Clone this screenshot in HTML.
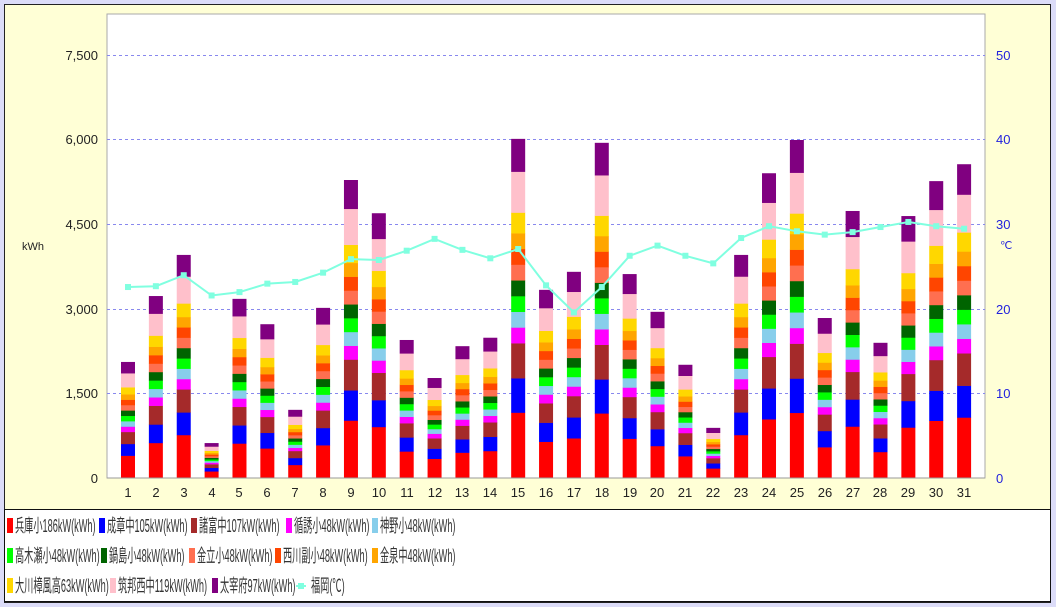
<!DOCTYPE html>
<html><head><meta charset="utf-8"><style>
html,body{margin:0;padding:0;background:#dcdcf8;width:1056px;height:607px;overflow:hidden}
#wrap{position:absolute;left:4px;top:4px;width:1045px;height:597px;border:1px solid #222;background:#ffffd6}
#leg{position:absolute;left:0;top:0;width:1056px;height:607px;font-family:"Liberation Sans","Noto Sans CJK JP",sans-serif;font-size:18px;color:#333}
#box{position:absolute;left:4px;top:509px;width:1045px;height:91px;border:1px solid #111;background:#fff}
.sq{position:absolute;width:6px;height:15px}
.t{position:absolute;white-space:nowrap;line-height:20px;transform:scaleX(0.51);transform-origin:0 50%}
svg{position:absolute;left:0;top:0}
</style></head><body>
<div id="wrap"></div>
<svg width="1056" height="510" font-family="Liberation Sans, sans-serif" font-size="13">
<rect x="107" y="14" width="878" height="464" fill="#fff" stroke="#aaa"/>
<g stroke="#8888ee" stroke-dasharray="3,3" stroke-width="1">
<line x1="107" x2="985" y1="55.5" y2="55.5"/><line x1="107" x2="985" y1="139.5" y2="139.5"/><line x1="107" x2="985" y1="224.5" y2="224.5"/><line x1="107" x2="985" y1="309.5" y2="309.5"/><line x1="107" x2="985" y1="393.5" y2="393.5"/>
</g>
<g id="bars"></g>
<line x1="107" x2="985" y1="478" y2="478" stroke="#999"/>
<polyline id="temp" fill="none" stroke="#80ffe0" stroke-width="2"/>
<g id="pts" fill="#80ffe0"></g>
<g text-anchor="end" fill="#222">
<text x="98" y="60">7,500</text><text x="98" y="144">6,000</text><text x="98" y="229">4,500</text><text x="98" y="314">3,000</text><text x="98" y="398">1,500</text><text x="98" y="483">0</text>
</g>
<text x="22" y="250" font-size="11" fill="#222">kWh</text>
<g fill="#2222dd">
<text x="996" y="60">50</text><text x="996" y="144">40</text><text x="996" y="229">30</text><text x="996" y="314">20</text><text x="996" y="398">10</text><text x="996" y="483">0</text>
<text x="1000" y="249" font-size="11">℃</text>
</g>
<g text-anchor="middle" fill="#222">
<text x="128" y="497">1</text><text x="156" y="497">2</text><text x="184" y="497">3</text><text x="212" y="497">4</text><text x="239" y="497">5</text><text x="267" y="497">6</text><text x="295" y="497">7</text><text x="323" y="497">8</text><text x="351" y="497">9</text><text x="379" y="497">10</text><text x="407" y="497">11</text><text x="435" y="497">12</text><text x="462" y="497">13</text><text x="490" y="497">14</text><text x="518" y="497">15</text><text x="546" y="497">16</text><text x="574" y="497">17</text><text x="602" y="497">18</text><text x="630" y="497">19</text><text x="657" y="497">20</text><text x="685" y="497">21</text><text x="713" y="497">22</text><text x="741" y="497">23</text><text x="769" y="497">24</text><text x="797" y="497">25</text><text x="825" y="497">26</text><text x="853" y="497">27</text><text x="880" y="497">28</text><text x="908" y="497">29</text><text x="936" y="497">30</text><text x="964" y="497">31</text>
</g>
</svg>
<div id="leg">
<div id="box"></div>
<div class="sq" style="left:7px;top:518px;background:#f00"></div><div class="t" style="left:15px;top:516px">兵庫小186kW(kWh)</div>
<div class="sq" style="left:99px;top:518px;background:#00f"></div><div class="t" style="left:107px;top:516px">成章中105kW(kWh)</div>
<div class="sq" style="left:191px;top:518px;background:#a52a2a"></div><div class="t" style="left:199px;top:516px">諸富中107kW(kWh)</div>
<div class="sq" style="left:286px;top:518px;background:#f0f"></div><div class="t" style="left:294px;top:516px">循誘小48kW(kWh)</div>
<div class="sq" style="left:372px;top:518px;background:#87ceeb"></div><div class="t" style="left:380px;top:516px">神野小48kW(kWh)</div>
<div class="sq" style="left:7px;top:548px;background:#0f0"></div><div class="t" style="left:15px;top:546px">高木瀬小48kW(kWh)</div>
<div class="sq" style="left:101px;top:548px;background:#006400"></div><div class="t" style="left:109px;top:546px">鍋島小48kW(kWh)</div>
<div class="sq" style="left:189px;top:548px;background:#ff6f50"></div><div class="t" style="left:197px;top:546px">金立小48kW(kWh)</div>
<div class="sq" style="left:275px;top:548px;background:#ff4500"></div><div class="t" style="left:283px;top:546px">西川副小48kW(kWh)</div>
<div class="sq" style="left:372px;top:548px;background:#ffa500"></div><div class="t" style="left:380px;top:546px">金泉中48kW(kWh)</div>
<div class="sq" style="left:7px;top:578px;background:#ffd700"></div><div class="t" style="left:15px;top:576px">大川樟風高63kW(kWh)</div>
<div class="sq" style="left:110px;top:578px;background:#ffc0cb"></div><div class="t" style="left:118px;top:576px">筑邦西中119kW(kWh)</div>
<div class="sq" style="left:212px;top:578px;background:#800080"></div><div class="t" style="left:220px;top:576px">太宰府97kW(kWh)</div>
<div style="position:absolute;left:296px;top:585px;width:10px;height:2px;background:#80ffe0"></div><div style="position:absolute;left:298px;top:583px;width:6px;height:6px;background:#80ffe0"></div><div class="t" style="left:311px;top:576px">福岡(℃)</div>
</div>
<script>
var tot=[2060,3230,3960,620,3180,2730,1210,3020,5290,4700,2450,1775,2340,2490,6020,3340,3660,5950,3620,2950,2010,890,3960,5410,6000,2840,4740,2400,4650,5270,5570];
var tmp=[22.6,22.7,24.0,21.6,22.0,23.0,23.2,24.3,25.9,25.8,26.9,28.3,27.0,26.0,27.1,22.8,19.6,22.6,26.3,27.5,26.3,25.4,28.4,29.8,29.2,28.8,29.1,29.7,30.3,29.8,29.5];
var w=[200,105,107,48,48,48,48,48,48,48,63,125,100];
var c=["#f00","#00f","#a52a2a","#f0f","#87ceeb","#0f0","#006400","#ff6f50","#ff4500","#ffa500","#ffd700","#ffc0cb","#800080"];
var sw=w.reduce(function(a,b){return a+b},0),k=84.5/1500,h="",pts="",pp="";
for(var i=0;i<31;i++){var cx=128+i*27.87,y=478;
for(var j=0;j<13;j++){var hh=tot[i]*w[j]/sw*k;y-=hh;h+='<rect x="'+(cx-7)+'" y="'+y.toFixed(2)+'" width="14" height="'+(hh+0.3).toFixed(2)+'" fill="'+c[j]+'"/>';}
var ty=478-tmp[i]*8.45;pts+=cx.toFixed(1)+","+ty.toFixed(1)+" ";pp+='<rect x="'+(cx-3)+'" y="'+(ty-3)+'" width="6" height="6"/>';}
document.getElementById("bars").innerHTML=h;document.getElementById("temp").setAttribute("points",pts);document.getElementById("pts").innerHTML=pp;
</script>
</body></html>
